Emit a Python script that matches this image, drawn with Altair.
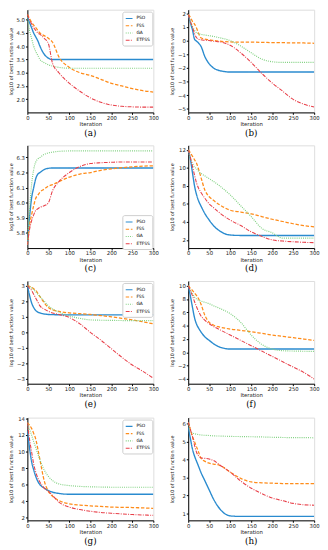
import altair as alt
import pandas as pd

X = [0, 5, 10, 15, 20, 25, 30, 40, 50, 60, 75, 100, 125, 150, 175, 200, 225, 250, 275, 300]
SERIES = ["PSO", "FSS", "GA", "ETFSS"]
COLORS = ["#2a8bcf", "#ff8c1a", "#7fd07f", "#e8404a"]
DASHES = [[1, 0], [3.5, 1.8], [1, 1.2], [4, 1.3, 1, 1.3]]
WIDTHS = [1.4, 1.1, 1.1, 1.1]

# (a)
a_pso = [5.1, 4.9, 4.7, 4.5, 4.35, 4.2, 4.0, 3.7, 3.55, 3.5, 3.5, 3.5, 3.5, 3.5, 3.5, 3.5, 3.5, 3.5, 3.5, 3.5]
a_fss = [5.2, 5.05, 4.9, 4.8, 4.7, 4.6, 4.5, 4.4, 4.3, 4.15, 3.6, 3.2, 3.0, 2.9, 2.75, 2.6, 2.5, 2.4, 2.32, 2.27]
a_ga = [5.1, 4.6, 4.3, 4.0, 3.8, 3.65, 3.5, 3.38, 3.3, 3.25, 3.2, 3.17, 3.17, 3.17, 3.17, 3.17, 3.17, 3.17, 3.17, 3.17]
a_et = [5.2, 5.0, 4.85, 4.7, 4.6, 4.5, 4.45, 4.3, 4.1, 3.35, 3.0, 2.6, 2.3, 2.05, 1.88, 1.78, 1.73, 1.71, 1.7, 1.7]
# (b)
b_pso = [1.9, 1.3, 0.8, 0.1, -0.05, -0.2, -0.4, -1.2, -1.7, -2.0, -2.2, -2.3, -2.3, -2.3, -2.3, -2.3, -2.3, -2.3, -2.3, -2.3]
b_fss = [1.9, 1.7, 1.4, 1.2, 0.9, 0.5, 0.2, 0.1, 0.05, 0.0, -0.05, -0.1, -0.12, -0.12, -0.13, -0.15, -0.16, -0.17, -0.18, -0.2]
b_ga = [1.9, 1.4, 1.0, 0.75, 0.55, 0.5, 0.45, 0.4, 0.35, 0.3, 0.2, 0.0, -0.4, -0.9, -1.35, -1.55, -1.6, -1.6, -1.6, -1.6]
b_et = [1.9, 1.4, 1.0, 0.5, 0.2, 0.1, 0.05, 0.02, 0.0, -0.05, -0.1, -0.35, -0.9, -1.6, -2.4, -3.1, -3.7, -4.3, -4.65, -4.85]
# (c)
c_pso = [5.72, 5.9, 6.03, 6.1, 6.16, 6.19, 6.2, 6.22, 6.228, 6.23, 6.23, 6.23, 6.23, 6.23, 6.23, 6.23, 6.23, 6.23, 6.23, 6.23]
c_fss = [5.72, 5.85, 5.92, 5.98, 6.03, 6.05, 6.07, 6.09, 6.11, 6.12, 6.14, 6.17, 6.19, 6.2, 6.215, 6.225, 6.232, 6.238, 6.242, 6.245]
c_ga = [5.72, 5.95, 6.12, 6.22, 6.27, 6.29, 6.3, 6.32, 6.33, 6.335, 6.34, 6.343, 6.343, 6.343, 6.343, 6.343, 6.343, 6.343, 6.343, 6.343]
c_et = [5.72, 5.82, 5.88, 5.92, 5.95, 5.96, 5.97, 5.98, 6.0, 6.08, 6.14, 6.2, 6.24, 6.26, 6.265, 6.268, 6.27, 6.27, 6.27, 6.27]
# (d)
d_pso = [12, 11, 9.5, 8, 7, 6.3, 5.8, 4.9, 4.2, 3.6, 3.0, 2.55, 2.5, 2.5, 2.5, 2.5, 2.5, 2.5, 2.5, 2.5]
d_fss = [12, 11.7, 11.3, 10.9, 10.5, 9.8, 9.0, 7.5, 6.8, 6.4, 5.9, 5.3, 5.1, 4.9, 4.6, 4.3, 4.05, 3.8, 3.6, 3.45]
d_ga = [12, 11, 10.5, 10.1, 9.9, 9.6, 9.4, 9.1, 8.8, 8.5, 8.0, 7.0, 5.8, 4.6, 3.3, 2.8, 2.2, 2.2, 2.2, 2.2]
d_et = [12, 11.2, 10.2, 9.2, 8.3, 7.7, 7.3, 6.6, 6.0, 5.6, 5.0, 4.2, 3.6, 2.9, 2.4, 2.0, 1.88, 1.8, 1.74, 1.7]
# (e)
e_pso = [3.0, 2.4, 1.9, 1.6, 1.4, 1.3, 1.25, 1.18, 1.15, 1.14, 1.13, 1.12, 1.12, 1.12, 1.12, 1.12, 1.12, 1.12, 1.12, 1.12]
e_fss = [3.0, 2.95, 2.9, 2.8, 2.7, 2.5, 2.3, 1.9, 1.6, 1.45, 1.35, 1.25, 1.2, 1.15, 1.08, 1.0, 0.9, 0.8, 0.68, 0.55]
e_ga = [3.0, 2.95, 2.85, 2.75, 2.6, 2.45, 2.3, 2.0, 1.7, 1.5, 1.3, 1.05, 0.9, 0.8, 0.78, 0.77, 0.76, 0.75, 0.75, 0.75]
e_et = [3.0, 2.85, 2.7, 2.45, 2.2, 1.95, 1.7, 1.5, 1.35, 1.25, 1.15, 0.95, 0.55, 0.0, -0.5, -1.05, -1.6, -2.1, -2.5, -2.95]
# (f)
f_pso = [10, 8.5, 6.8, 5.2, 4.2, 3.6, 3.1, 2.3, 1.8, 1.3, 0.8, 0.5, 0.5, 0.5, 0.5, 0.5, 0.5, 0.5, 0.5, 0.5]
f_fss = [10, 9.6, 9.3, 8.9, 8.5, 8.0, 7.3, 5.5, 4.5, 4.1, 3.8, 3.5, 3.3, 3.1, 2.85, 2.6, 2.4, 2.2, 2.0, 1.8]
f_ga = [10, 9.3, 8.8, 8.3, 8.0, 7.8, 7.7, 7.5, 7.3, 7.0, 6.6, 5.8, 4.5, 2.6, 1.2, 0.5, 0.25, 0.2, 0.17, 0.15]
f_et = [10, 9.3, 8.5, 7.6, 6.8, 6.1, 5.5, 4.8, 4.3, 3.9, 3.4, 2.6, 1.8, 1.0, 0.2, -0.6, -1.4, -2.2, -3.0, -4.0]
# (g)
g_pso = [12.5, 10.5, 8.8, 7.8, 7.0, 6.4, 6.0, 5.6, 5.3, 5.1, 4.95, 4.85, 4.85, 4.85, 4.85, 4.85, 4.85, 4.85, 4.85, 4.85]
g_fss = [13.5, 13.2, 12.8, 12.2, 11.5, 10.3, 9.0, 6.5, 5.2, 4.6, 4.1, 3.7, 3.55, 3.45, 3.38, 3.3, 3.27, 3.25, 3.2, 3.15]
g_ga = [13.5, 12.7, 12.0, 11.2, 10.5, 9.7, 9.0, 7.8, 7.0, 6.5, 6.1, 5.9, 5.8, 5.75, 5.72, 5.7, 5.7, 5.7, 5.7, 5.7]
g_et = [13.5, 11.5, 10.0, 8.5, 7.5, 6.8, 6.3, 5.6, 5.2, 4.7, 3.9, 3.3, 3.0, 2.8, 2.65, 2.55, 2.47, 2.4, 2.35, 2.3]
# (h)
h_pso = [5.8, 5.2, 4.6, 4.2, 3.9, 3.6, 3.3, 2.8, 2.3, 1.8, 1.25, 0.85, 0.82, 0.82, 0.82, 0.82, 0.82, 0.82, 0.82, 0.82]
h_fss = [6.1, 5.7, 5.3, 5.0, 4.7, 4.4, 4.1, 3.9, 3.8, 3.75, 3.68, 3.3, 2.95, 2.75, 2.7, 2.68, 2.66, 2.65, 2.65, 2.65]
h_ga = [6.1, 5.6, 5.5, 5.45, 5.42, 5.4, 5.38, 5.36, 5.35, 5.33, 5.32, 5.3, 5.29, 5.28, 5.27, 5.25, 5.24, 5.23, 5.23, 5.22]
h_et = [6.1, 5.7, 5.3, 4.8, 4.4, 4.2, 4.1, 4.07, 4.03, 3.95, 3.7, 3.3, 2.8, 2.4, 2.1, 1.85, 1.7, 1.55, 1.47, 1.45]

W, H = 130, 106

panels = [
    ("(a)", [a_pso, a_fss, a_ga, a_et], [1.5, 5.38], [2.0, 2.5, 3.0, 3.5, 4.0, 4.5, 5.0], ".1f", "tr"),
    ("(b)", [b_pso, b_fss, b_ga, b_et], [-5.25, 2.25], [-5, -4, -3, -2, -1, 0, 1, 2], "d", "tr"),
    ("(c)", [c_pso, c_fss, c_ga, c_et], [5.7, 6.38], [5.8, 5.9, 6.0, 6.1, 6.2, 6.3], ".1f", "br"),
    ("(d)", [d_pso, d_fss, d_ga, d_et], [1.1, 12.5], [2, 4, 6, 8, 10, 12], "d", "tr"),
    ("(e)", [e_pso, e_fss, e_ga, e_et], [-3.3, 3.3], [-3, -2, -1, 0, 1, 2, 3], "d", "tr"),
    ("(f)", [f_pso, f_fss, f_ga, f_et], [-4.7, 10.7], [-4, -2, 0, 2, 4, 6, 8, 10], "d", "tr"),
    ("(g)", [g_pso, g_fss, g_ga, g_et], [1.7, 14.1], [2, 4, 6, 8, 10, 12, 14], "d", "tr"),
    ("(h)", [h_pso, h_fss, h_ga, h_et], [0.6, 6.35], [1, 2, 3, 4, 5, 6], "d", "mr"),
]


def make_panel(label, series, ydom, yticks, yfmt, lpos):
    rows = []
    for name, vals in zip(SERIES, series):
        for x, v in zip(X, vals):
            rows.append({"Iteration": x, "value": v, "alg": name})
    df = pd.DataFrame(rows)
    lx = W - 32
    ly = {"tr": 2, "br": H - 34, "mr": 39}[lpos]
    leg = alt.Legend(orient="none", legendX=lx, legendY=ly, title=None,
                     symbolType="stroke", symbolSize=49, symbolStrokeWidth=1.1,
                     labelFontSize=4.5, labelFont="DejaVu Sans", rowPadding=0.5,
                     padding=2.5, fillColor="white", strokeColor="#cccccc",
                     cornerRadius=2, symbolOffset=0, labelOffset=3)
    return alt.Chart(df, title=alt.Title(label, orient="bottom", frame="group",
                                          font="DejaVu Serif", fontSize=9,
                                          fontWeight="normal", offset=2, color="black")).mark_line(
        interpolate="monotone", clip=True
    ).encode(
        x=alt.X("Iteration:Q", scale=alt.Scale(domain=[0, 300], nice=False),
                axis=alt.Axis(values=[0, 50, 100, 150, 200, 250, 300], title="Iteration",
                              labelFontSize=5.5, titleFontSize=5.5, tickSize=2,
                              labelPadding=1, titlePadding=1, grid=False,
                              labelFlush=False, domainColor="black", tickColor="black",
                              labelColor="#222", titleColor="#222", titleFontWeight="normal",
                              labelFont="DejaVu Sans", titleFont="DejaVu Sans")),
        y=alt.Y("value:Q", scale=alt.Scale(domain=ydom, nice=False, zero=False),
                axis=alt.Axis(values=yticks, format=yfmt, title="log10 of best function value",
                              labelFontSize=5.5, titleFontSize=5, tickSize=2,
                              labelPadding=1, titlePadding=2, grid=False,
                              minExtent=12, maxExtent=12, domainColor="black", tickColor="black",
                              labelColor="#222", titleColor="#222", titleFontWeight="normal",
                              labelFont="DejaVu Sans", titleFont="DejaVu Sans")),
        color=alt.Color("alg:N", scale=alt.Scale(domain=SERIES, range=COLORS), legend=leg),
        strokeDash=alt.StrokeDash("alg:N", scale=alt.Scale(domain=SERIES, range=DASHES), legend=leg),
        size=alt.Size("alg:N", scale=alt.Scale(domain=SERIES, range=WIDTHS), legend=None),
        order=alt.Order("order:Q"),
    ).transform_calculate(
        order="indexof(['PSO','FSS','GA','ETFSS'], datum.alg)"
    ).properties(width=W, height=H)


charts = [make_panel(*p) for p in panels]
rows = [alt.hconcat(charts[i], charts[i + 1], spacing=10) for i in range(0, 8, 2)]
chart = alt.vconcat(*rows, spacing=6).resolve_scale(
    y="independent", x="independent"
).resolve_legend(color="independent", strokeDash="independent").properties(
    padding={"top": -8, "left": 0, "right": 0, "bottom": 0}
).configure_view(stroke="black", strokeWidth=0.8).configure(background="white")

chart.save("out.html", embed_options={"renderer": "svg", "actions": False})
